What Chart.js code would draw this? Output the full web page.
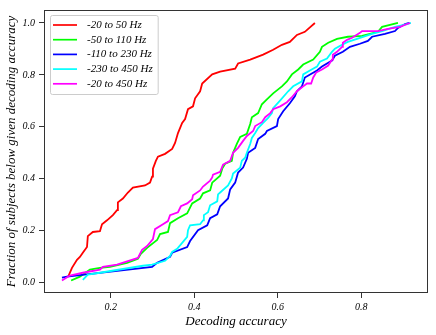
<!DOCTYPE html>
<html>
<head>
<meta charset="utf-8">
<script src="https://cdn.jsdelivr.net/npm/chart.js@4/dist/chart.umd.min.js"></script>
<style>
  html, body { margin: 0; padding: 0; background: #fff; }
  #wrap { width: 436px; height: 335px; }
</style>
</head>
<body>
<div id="wrap"><canvas id="chart" width="436" height="335"></canvas></div>
<script>
// frequency bands, in legend order
const bandLabels = ["-20 to 50 Hz", "-50 to 110 Hz", "-110 to 230 Hz", "-230 to 450 Hz", "-20 to 450 Hz"];
const bandColors = ["#ff0000", "#00ff00", "#0000ff", "#00ffff", "#ff00ff"];

// decoding accuracy (x) and fraction of subjects below it (y)
const acc20to50 = [0.098, 0.107, 0.119, 0.126, 0.133, 0.143, 0.145, 0.157, 0.174, 0.179, 0.191, 0.205, 0.215, 0.217, 0.229, 0.241, 0.253, 0.282, 0.294, 0.299, 0.301, 0.308, 0.313, 0.330, 0.347, 0.354, 0.361, 0.371, 0.378, 0.385, 0.397, 0.402, 0.414, 0.419, 0.443, 0.462, 0.498, 0.505, 0.534, 0.565, 0.589, 0.610, 0.629, 0.646, 0.665, 0.689];
const frac20to50 = [0.023, 0.057, 0.088, 0.099, 0.115, 0.137, 0.179, 0.195, 0.198, 0.225, 0.240, 0.260, 0.279, 0.309, 0.324, 0.347, 0.366, 0.374, 0.385, 0.408, 0.439, 0.469, 0.485, 0.496, 0.515, 0.538, 0.576, 0.615, 0.630, 0.668, 0.679, 0.710, 0.737, 0.767, 0.802, 0.813, 0.824, 0.844, 0.859, 0.878, 0.897, 0.916, 0.927, 0.954, 0.966, 1.0];

const acc50to110 = [0.105, 0.126, 0.150, 0.174, 0.198, 0.239, 0.265, 0.272, 0.287, 0.311, 0.318, 0.337, 0.342, 0.361, 0.383, 0.395, 0.414, 0.421, 0.438, 0.443, 0.462, 0.467, 0.474, 0.490, 0.493, 0.502, 0.510, 0.526, 0.534, 0.538, 0.553, 0.562, 0.574, 0.589, 0.610, 0.622, 0.634, 0.649, 0.661, 0.685, 0.701, 0.706, 0.721, 0.742, 0.768, 0.802, 0.840, 0.850, 0.888];
const frac50to110 = [0.008, 0.023, 0.050, 0.057, 0.061, 0.076, 0.092, 0.111, 0.134, 0.164, 0.187, 0.195, 0.229, 0.248, 0.267, 0.305, 0.324, 0.344, 0.355, 0.385, 0.412, 0.439, 0.458, 0.469, 0.500, 0.534, 0.561, 0.573, 0.611, 0.637, 0.653, 0.687, 0.706, 0.729, 0.756, 0.775, 0.802, 0.821, 0.840, 0.859, 0.889, 0.908, 0.924, 0.939, 0.947, 0.950, 0.966, 0.985, 1.0];

const acc110to230 = [0.083, 0.095, 0.299, 0.311, 0.342, 0.347, 0.383, 0.390, 0.409, 0.431, 0.438, 0.455, 0.462, 0.481, 0.486, 0.498, 0.505, 0.517, 0.526, 0.529, 0.546, 0.553, 0.570, 0.574, 0.598, 0.601, 0.613, 0.629, 0.641, 0.646, 0.658, 0.665, 0.694, 0.706, 0.730, 0.737, 0.756, 0.773, 0.797, 0.816, 0.826, 0.857, 0.881, 0.888, 0.905, 0.915];
const frac110to230 = [0.019, 0.023, 0.061, 0.076, 0.099, 0.115, 0.137, 0.160, 0.202, 0.221, 0.248, 0.263, 0.294, 0.324, 0.359, 0.385, 0.424, 0.443, 0.477, 0.500, 0.519, 0.553, 0.573, 0.584, 0.603, 0.630, 0.660, 0.691, 0.718, 0.737, 0.756, 0.790, 0.817, 0.832, 0.855, 0.874, 0.889, 0.908, 0.920, 0.931, 0.947, 0.958, 0.969, 0.981, 0.996, 1.0];

const acc230to450 = [0.133, 0.145, 0.174, 0.277, 0.299, 0.330, 0.342, 0.347, 0.359, 0.371, 0.383, 0.385, 0.390, 0.414, 0.421, 0.423, 0.433, 0.438, 0.455, 0.457, 0.462, 0.481, 0.490, 0.493, 0.510, 0.514, 0.522, 0.526, 0.534, 0.538, 0.546, 0.553, 0.565, 0.577, 0.586, 0.589, 0.606, 0.625, 0.637, 0.658, 0.661, 0.677, 0.694, 0.701, 0.718, 0.730, 0.737, 0.754, 0.768, 0.790, 0.826, 0.850, 0.881, 0.910, 0.919];
const frac230to450 = [0.011, 0.031, 0.038, 0.065, 0.069, 0.084, 0.103, 0.118, 0.130, 0.153, 0.176, 0.202, 0.221, 0.225, 0.240, 0.260, 0.271, 0.298, 0.313, 0.340, 0.347, 0.374, 0.401, 0.420, 0.443, 0.469, 0.481, 0.500, 0.534, 0.557, 0.576, 0.595, 0.615, 0.634, 0.653, 0.672, 0.702, 0.737, 0.756, 0.775, 0.802, 0.817, 0.832, 0.851, 0.863, 0.889, 0.901, 0.916, 0.927, 0.939, 0.958, 0.969, 0.985, 0.996, 1.0];

const acc20to450 = [0.083, 0.102, 0.133, 0.174, 0.181, 0.215, 0.265, 0.275, 0.287, 0.301, 0.306, 0.325, 0.337, 0.342, 0.361, 0.368, 0.383, 0.395, 0.397, 0.414, 0.421, 0.438, 0.443, 0.445, 0.462, 0.469, 0.486, 0.493, 0.505, 0.517, 0.526, 0.541, 0.546, 0.562, 0.570, 0.582, 0.589, 0.606, 0.622, 0.634, 0.646, 0.661, 0.670, 0.680, 0.685, 0.692, 0.706, 0.721, 0.730, 0.732, 0.742, 0.754, 0.756, 0.766, 0.778, 0.797, 0.802, 0.840, 0.864, 0.893, 0.910, 0.917];
const frac20to450 = [0.008, 0.027, 0.038, 0.050, 0.061, 0.069, 0.095, 0.126, 0.141, 0.168, 0.206, 0.225, 0.237, 0.260, 0.271, 0.294, 0.305, 0.321, 0.336, 0.355, 0.370, 0.393, 0.405, 0.416, 0.427, 0.454, 0.469, 0.500, 0.519, 0.546, 0.565, 0.584, 0.603, 0.618, 0.637, 0.653, 0.668, 0.679, 0.695, 0.714, 0.737, 0.756, 0.767, 0.767, 0.790, 0.809, 0.821, 0.836, 0.859, 0.878, 0.889, 0.908, 0.924, 0.935, 0.943, 0.962, 0.969, 0.969, 0.977, 0.985, 0.996, 1.0];

const xTicks = [0.2, 0.4, 0.6, 0.8];
const yTicks = [0.0, 0.2, 0.4, 0.6, 0.8, 1.0];

const seriesX = [acc20to50, acc50to110, acc110to230, acc230to450, acc20to450];
const seriesY = [frac20to50, frac50to110, frac110to230, frac230to450, frac20to450];

const serif = "'Liberation Serif', 'DejaVu Serif', serif";

// box round the plot area (all four sides)
const frame = {
    id: "frame",
    afterDraw(chart) {
        const { ctx, chartArea: a } = chart;
        ctx.save();
        ctx.strokeStyle = "#333";
        ctx.lineWidth = 1;
        ctx.strokeRect(a.left + 0.5, a.top + 0.5, a.right - a.left - 1, a.bottom - a.top - 1);
        ctx.restore();
    },
};

// matplotlib style legend inside the axes, upper left
const legendBox = {
    id: "legendBox",
    afterDatasetsDraw(chart) {
        const { ctx, chartArea: a } = chart;
        const x0 = a.left + 6, y0 = a.top + 5, rowH = 14.7;
        ctx.save();
        ctx.font = "italic 11px " + serif;
        const textW = Math.max(...chart.data.datasets.map((d) => ctx.measureText(d.label).width));
        const w = 37 + textW + 5, h = 79;
        ctx.beginPath();
        ctx.roundRect(x0 + 0.5, y0 + 0.5, w, h, 2);
        ctx.fillStyle = "rgba(255,255,255,0.85)";
        ctx.fill();
        ctx.strokeStyle = "#cccccc";
        ctx.lineWidth = 1;
        ctx.stroke();
        chart.data.datasets.forEach((ds, i) => {
            const cy = y0 + 10 + i * rowH;
            ctx.beginPath();
            ctx.moveTo(x0 + 3, cy);
            ctx.lineTo(x0 + 27, cy);
            ctx.strokeStyle = ds.borderColor;
            ctx.lineWidth = 1.7;
            ctx.stroke();
            ctx.fillStyle = "#000";
            ctx.textBaseline = "middle";
            ctx.textAlign = "left";
            ctx.fillText(ds.label, x0 + 37, cy);
        });
        ctx.restore();
    },
};

const datasets = bandLabels.map((label, i) => ({
    label,
    data: seriesX[i].map((x, j) => ({ x, y: seriesY[i][j] })),
    borderColor: bandColors[i],
    backgroundColor: bandColors[i],
    borderWidth: 1.8,
    pointRadius: 0,
    showLine: true,
    fill: false,
    tension: 0,
    order: bandLabels.length - i, // later bands drawn on top
}));

new Chart(document.getElementById("chart"), {
    type: "scatter",
    data: { datasets },
    options: {
        responsive: false,
        animation: false,
        layout: { padding: { top: 8, right: 8, left: 0, bottom: 0 } },
        plugins: {
            legend: { display: false },
            tooltip: { enabled: false },
        },
        scales: {
            x: {
                type: "linear",
                min: 0.04,
                max: 0.96,
                afterBuildTicks: (s) => { s.ticks = xTicks.map((v) => ({ value: v })); },
                afterFit: (s) => { s.height = 42; },
                ticks: {
                    callback: (v) => v.toFixed(1),
                    color: "#000",
                    font: { family: serif, style: "italic", size: 10 },
                    padding: 3,
                    maxRotation: 0,
                },
                grid: { drawOnChartArea: false, drawTicks: true, tickLength: 5, color: "#333" },
                border: { display: false },
                title: {
                    display: true,
                    text: "Decoding accuracy",
                    color: "#000",
                    font: { family: serif, style: "italic", size: 13 },
                    padding: { top: 0, bottom: 6 },
                },
            },
            y: {
                type: "linear",
                min: -0.04,
                max: 1.05,
                afterBuildTicks: (s) => { s.ticks = yTicks.map((v) => ({ value: v })); },
                afterFit: (s) => { s.width = 44; },
                ticks: {
                    callback: (v) => v.toFixed(1),
                    color: "#000",
                    font: { family: serif, style: "italic", size: 10 },
                    padding: 4,
                },
                grid: { drawOnChartArea: false, drawTicks: true, tickLength: 5, color: "#333" },
                border: { display: false },
                title: {
                    display: true,
                    text: "Fraction of subjects below given decoding accuracy",
                    color: "#000",
                    font: { family: serif, style: "italic", size: 13 },
                    padding: { top: 4, bottom: 0 },
                },
            },
        },
    },
    plugins: [frame, legendBox],
});
</script>
</body>
</html>
